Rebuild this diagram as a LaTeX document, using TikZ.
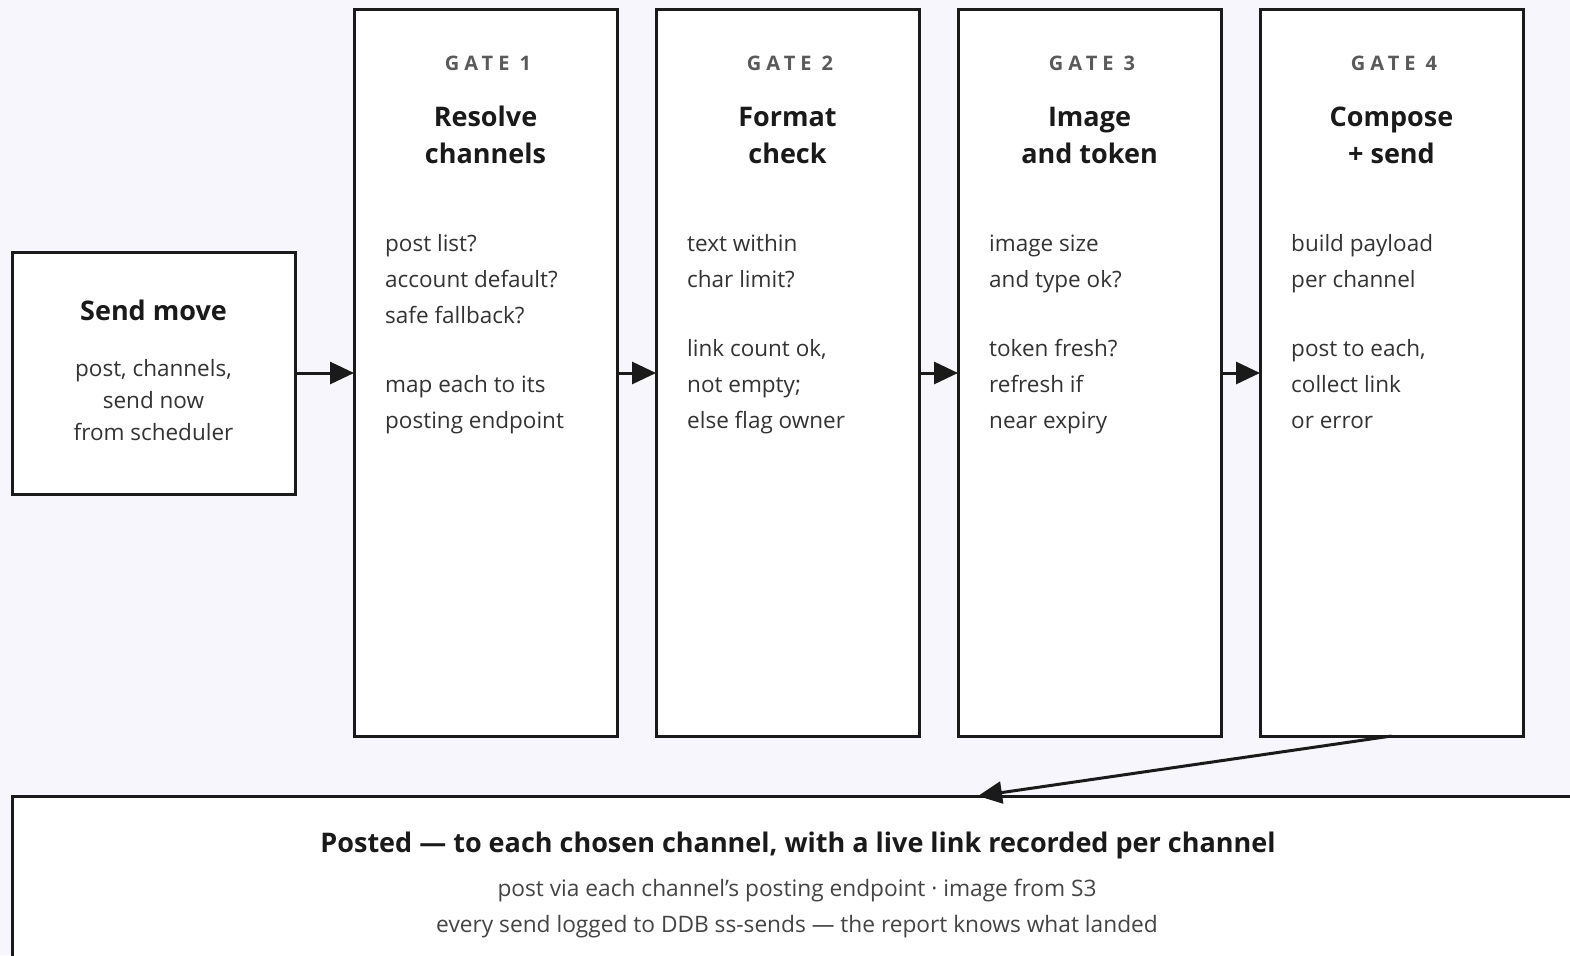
\documentclass[tikz,border=0pt]{standalone}
\usepackage{fontspec}
\setmainfont{Open Sans}
\usetikzlibrary{arrows.meta}
\definecolor{bg}{HTML}{F7F6FD}
\definecolor{ink}{HTML}{1A1A1A}
\definecolor{gatec}{HTML}{5A5A5A}
\definecolor{bodyc}{HTML}{333333}
\definecolor{subc}{HTML}{444444}
\begin{document}
\begin{tikzpicture}[x=1pt,y=-1pt,
  box/.style={draw=ink, line width=3pt, fill=white, inner sep=0pt, outer sep=0pt},
  gatelbl/.style={anchor=base, inner sep=0pt, text=gatec,
    font=\fontsize{20}{24}\selectfont\bfseries\addfontfeature{LetterSpace=25}},
  ttl/.style={anchor=base, inner sep=0pt, text=ink, font=\fontsize{27}{30}\selectfont\bfseries},
  bodyl/.style={anchor=base west, inner sep=0pt, text=bodyc, font=\fontsize{22.5}{24}\selectfont},
  bodyc/.style={anchor=base, inner sep=0pt, text=bodyc, font=\fontsize{22.5}{24}\selectfont},
  subl/.style={anchor=base, inner sep=0pt, text=subc, font=\fontsize{22.7}{24}\selectfont},
  flow/.style={draw=ink, line width=3pt, -{Triangle[length=24pt,width=22pt]}}
]
\useasboundingbox (0,0) rectangle (1570,955);
\fill[bg] (0,0) rectangle (1570,955);
\begin{scope}
\clip (0,0) rectangle (1570,955);
% boxes
\node[box, minimum width=283pt, minimum height=242pt] (sm) at (153.5,373) {};
\node[box, minimum width=263pt, minimum height=726pt] (g1) at (485.5,373) {};
\node[box, minimum width=263pt, minimum height=726pt] (g2) at (787.5,373) {};
\node[box, minimum width=263pt, minimum height=726pt] (g3) at (1089.5,373) {};
\node[box, minimum width=263pt, minimum height=726pt] (g4) at (1391.5,373) {};
\node[box, minimum width=1932pt, minimum height=300pt] (out) at (978,946) {};
\end{scope}
% send move text
\node[ttl] (smt) at (153.5,320) {Send move};
\node[bodyc] (sm1) at (153.5,376) {post, channels,};
\node[bodyc] (sm2) at (153.5,408) {send now};
\node[bodyc] (sm3) at (153.5,440) {from scheduler};
% gate 1
\node[gatelbl] (g1a) at (488,70.5) {GATE 1};
\node[ttl] (g1b) at (485.5,127) {Resolve};
\node[ttl] (g1c) at (485.5,163) {channels};
\node[bodyl] (g1l1) at (385,251) {post list?};
\node[bodyl] (g1l2) at (385,287) {account default?};
\node[bodyl] (g1l3) at (385,323) {safe fallback?};
\node[bodyl] (g1l4) at (385,392) {map each to its};
\node[bodyl] (g1l5) at (385,428) {posting endpoint};
% gate 2
\node[gatelbl] (g2a) at (790,70.5) {GATE 2};
\node[ttl] (g2b) at (787.5,127) {Format};
\node[ttl] (g2c) at (787.5,163) {check};
\node[bodyl] (g2l1) at (687,251) {text within};
\node[bodyl] (g2l2) at (687,287) {char limit?};
\node[bodyl] (g2l3) at (687,356) {link count ok,};
\node[bodyl] (g2l4) at (687,392) {not empty;};
\node[bodyl] (g2l5) at (687,428) {else flag owner};
% gate 3
\node[gatelbl] (g3a) at (1092,70.5) {GATE 3};
\node[ttl] (g3b) at (1089.5,127) {Image};
\node[ttl] (g3c) at (1089.5,163) {and token};
\node[bodyl] (g3l1) at (989,251) {image size};
\node[bodyl] (g3l2) at (989,287) {and type ok?};
\node[bodyl] (g3l3) at (989,356) {token fresh?};
\node[bodyl] (g3l4) at (989,392) {refresh if};
\node[bodyl] (g3l5) at (989,428) {near expiry};
% gate 4
\node[gatelbl] (g4a) at (1394,70.5) {GATE 4};
\node[ttl] (g4b) at (1391.5,127) {Compose};
\node[ttl] (g4c) at (1391.5,163) {+ send};
\node[bodyl] (g4l1) at (1291,251) {build payload};
\node[bodyl] (g4l2) at (1291,287) {per channel};
\node[bodyl] (g4l3) at (1291,356) {post to each,};
\node[bodyl] (g4l4) at (1291,392) {collect link};
\node[bodyl] (g4l5) at (1291,428) {or error};
% bottom
\node[ttl] (ot) at (798,852) {Posted — to each chosen channel, with a live link recorded per channel};
\node[subl] (o1) at (797,896) {post via each channel’s posting endpoint · image from S3};
\node[subl] (o2) at (797,932) {every send logged to DDB ss-sends — the report knows what landed};
% connectors
\draw[flow] (sm.east) -- (g1.west);
\draw[flow] (g1.east) -- (g2.west);
\draw[flow] (g2.east) -- (g3.west);
\draw[flow] (g3.east) -- (g4.west);
\draw[flow] (g4.south) -- (out.north);
\end{tikzpicture}
\end{document}
